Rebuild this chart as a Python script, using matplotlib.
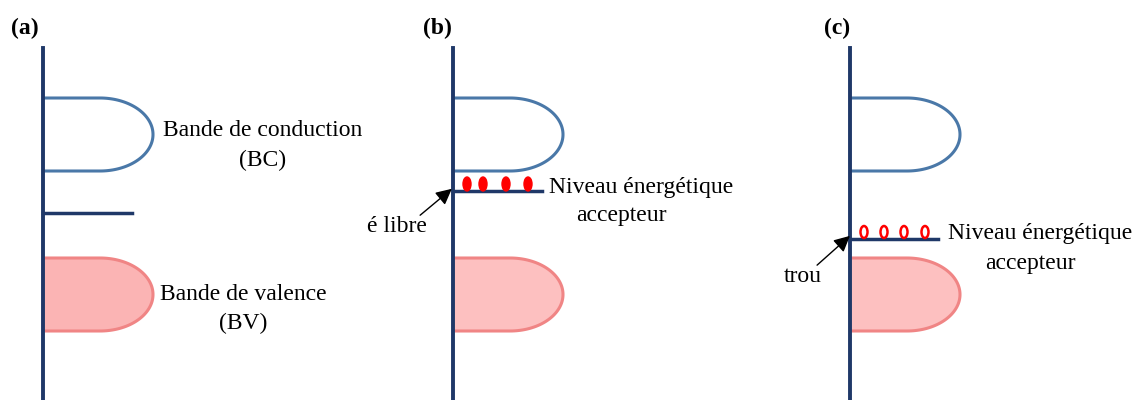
import matplotlib.pyplot as plt
from matplotlib.patches import Ellipse
import numpy as np

plt.rcParams['font.family'] = ['Liberation Serif', 'DejaVu Serif']

# panel layout (pixel units)
panel_names = ['(a)', '(b)', '(c)']
panel_x = [43, 453, 850]          # energy axis position
label_x = [25, 437, 837]
axis_top = 48

# bands: (top, bottom)
bc = (98, 171)
bv = (258, 331)
band_len = 110
flat_len = 57

# acceptor / gap level per panel: (y, right end)
levels = [(213, 132), (191, 542), (239, 938)]

# carriers above level
dots_b = [467, 483, 506, 528]
dots_c = [864, 884, 904, 925]

navy = '#1f3868'
blue = '#4a78a8'
red_edge = '#f08585'
red_fills = ['#fbb4b4', '#fdc0c0', '#fdc0c0']


def band_path(x0, top, bot):
    cx = x0 + flat_len
    cy = (top + bot) / 2
    rx = band_len - flat_len
    ry = (bot - top) / 2
    t = np.linspace(-np.pi / 2, np.pi / 2, 80)
    ex = cx + rx * np.cos(t)
    ey = cy + ry * np.sin(t)
    xs = np.concatenate([[x0], ex, [x0]])
    ys = np.concatenate([[top], ey, [bot]])
    return xs, ys


fig = plt.figure(figsize=(11.44, 4.0), dpi=100)
ax = fig.add_axes([0, 0, 1, 1])
ax.set_xlim(0, 1144)
ax.set_ylim(400, 0)
ax.axis('off')

for i, x0 in enumerate(panel_x):
    # conduction band
    xs, ys = band_path(x0, *bc)
    ax.plot(xs, ys, color=blue, lw=2.2, solid_capstyle='butt')
    # valence band
    xs, ys = band_path(x0, *bv)
    ax.fill(xs, ys, color=red_fills[i], lw=0)
    ax.plot(xs, ys, color=red_edge, lw=2.2, solid_capstyle='butt')
    # level
    ly, lx1 = levels[i]
    ax.plot([x0, lx1], [ly, ly], color=navy, lw=2.5)
    # energy axis
    ax.plot([x0, x0], [axis_top, 400], color=navy, lw=2.8)
    ax.text(label_x[i], 28, panel_names[i], fontsize=17, fontweight='bold',
            ha='center', va='center')

# panel (a) labels
ax.text(263, 130, 'Bande de conduction', fontsize=17, ha='center', va='center')
ax.text(263, 160, '(BC)', fontsize=17, ha='center', va='center')
ax.text(243, 294, 'Bande de valence', fontsize=17, ha='center', va='center')
ax.text(243, 323, '(BV)', fontsize=17, ha='center', va='center')

# panel (b): free electrons
for dx in dots_b:
    ax.add_patch(Ellipse((dx, 184), 8, 14, color='#ff0000', zorder=3))
ax.text(549, 187, 'Niveau énergétique', fontsize=17, ha='left', va='center')
ax.text(621, 216, 'accepteur', fontsize=17, ha='center', va='center')
ax.text(397, 227, 'é libre', fontsize=17, ha='center', va='center')
ax.annotate('', xy=(454, 187), xytext=(418, 217),
            arrowprops=dict(arrowstyle='-|>', color='black', lw=1, mutation_scale=24))

# panel (c): holes
for dx in dots_c:
    ax.add_patch(Ellipse((dx, 232), 7, 12, facecolor='none',
                         edgecolor='#ff0000', lw=1.8, zorder=3))
ax.text(948, 233, 'Niveau énergétique', fontsize=17, ha='left', va='center')
ax.text(1030, 263, 'accepteur', fontsize=17, ha='center', va='center')
ax.text(803, 277, 'trou', fontsize=17, ha='center', va='center')
ax.annotate('', xy=(852, 234), xytext=(815, 267),
            arrowprops=dict(arrowstyle='-|>', color='black', lw=1, mutation_scale=24))

fig.savefig('out.png', dpi=100)
